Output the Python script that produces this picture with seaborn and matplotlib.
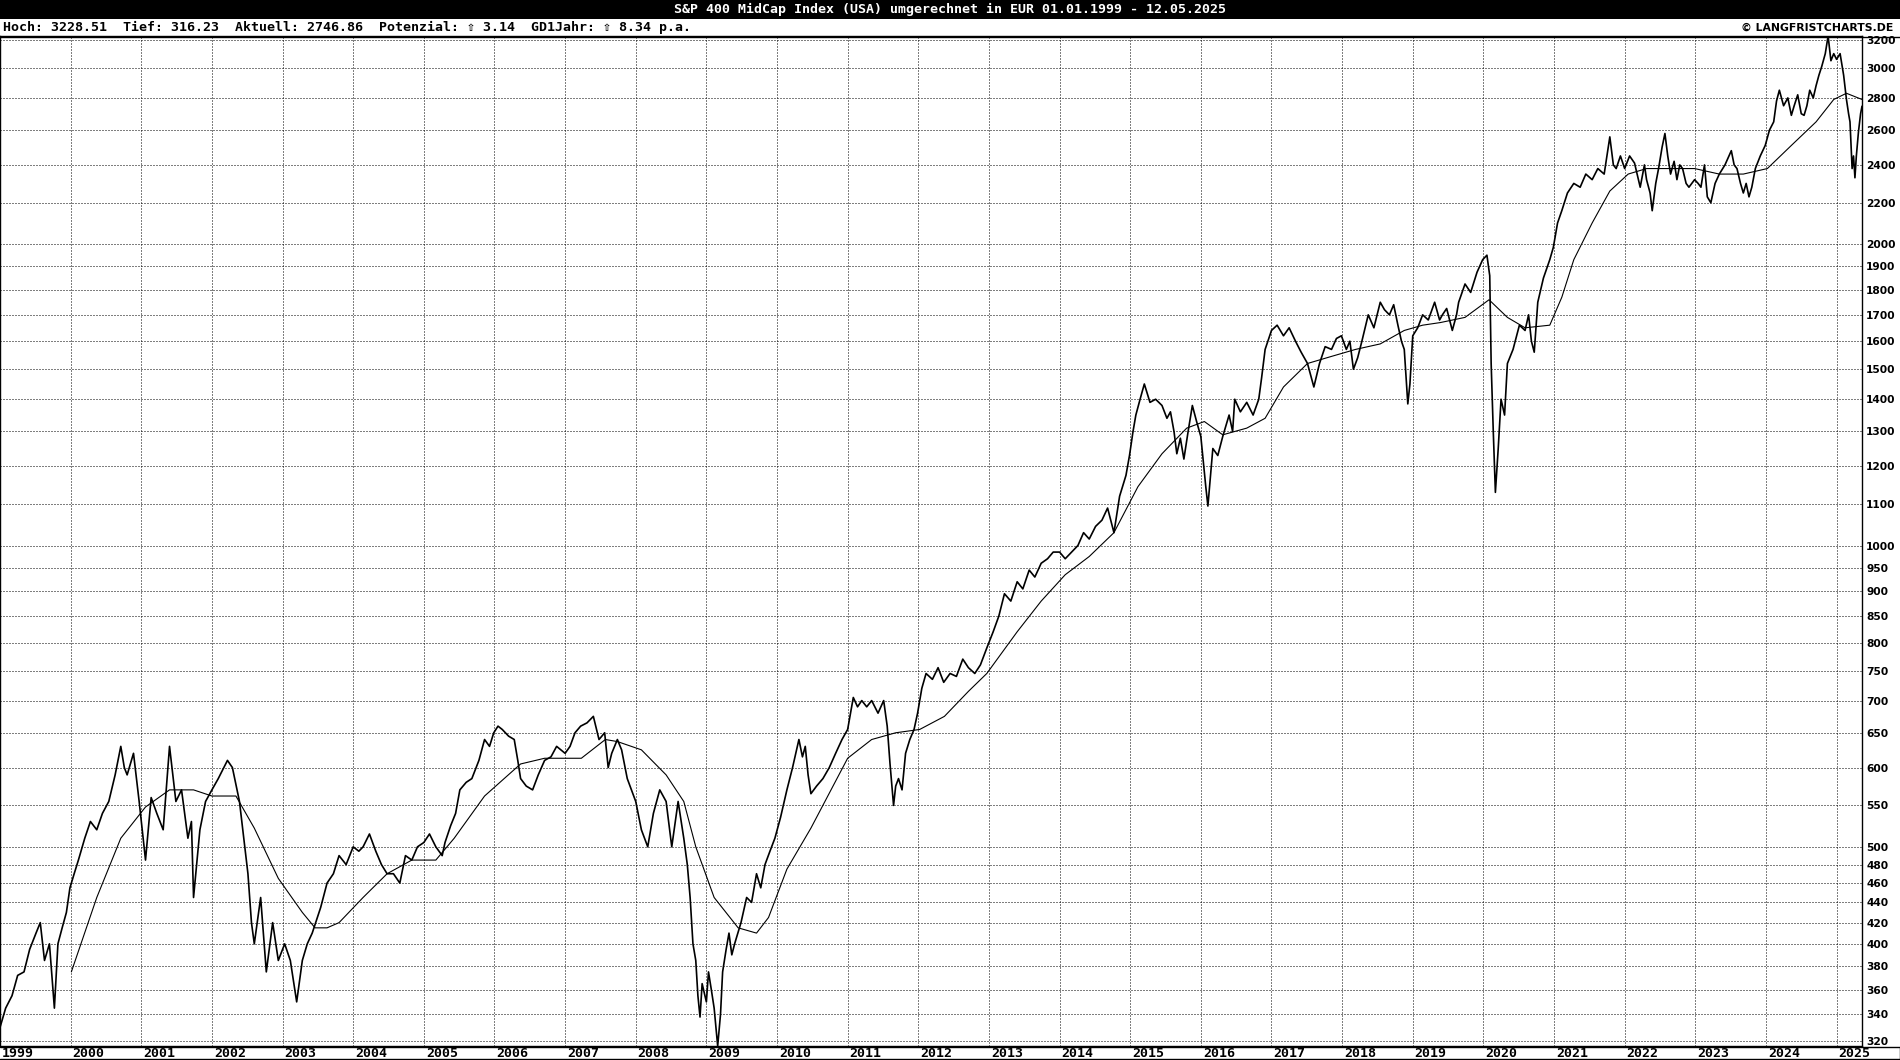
import numpy as np
import pandas as pd
import matplotlib
matplotlib.use("Agg")
import matplotlib.pyplot as plt
import seaborn as sns
from matplotlib.lines import Line2D
from matplotlib.patches import Rectangle
from matplotlib.ticker import NullLocator, FixedLocator, FixedFormatter
from matplotlib.transforms import ScaledTranslation

# ---------------- data ----------------
price_years = [
    1999.00, 1999.08, 1999.17, 1999.25, 1999.34, 1999.42, 1999.51, 1999.57, 1999.63, 1999.70, 1999.77, 1999.82, 1999.88, 1999.94, 1999.99,
    2000.05, 2000.11, 2000.20, 2000.28, 2000.37, 2000.45, 2000.54, 2000.63, 2000.71, 2000.76, 2000.80, 2000.89, 2000.97,
    2001.06, 2001.14, 2001.22, 2001.31, 2001.40, 2001.49, 2001.57, 2001.66, 2001.71, 2001.74, 2001.83, 2001.91, 2002.00,
    2002.09, 2002.22, 2002.29, 2002.39, 2002.51, 2002.56, 2002.60, 2002.69, 2002.77, 2002.86, 2002.94, 2003.03,
    2003.11, 2003.20, 2003.28, 2003.35, 2003.42, 2003.54, 2003.63, 2003.72, 2003.80, 2003.90, 2004.00,
    2004.08, 2004.14, 2004.23, 2004.32, 2004.40, 2004.48, 2004.57, 2004.66, 2004.74, 2004.83, 2004.91, 2005.00,
    2005.08, 2005.17, 2005.26, 2005.30, 2005.38, 2005.45, 2005.51, 2005.60, 2005.68, 2005.78, 2005.86, 2005.93, 2005.99,
    2006.05, 2006.11, 2006.20, 2006.28, 2006.33, 2006.37, 2006.45, 2006.54, 2006.62, 2006.71, 2006.80, 2006.88, 2007.00,
    2007.07, 2007.14, 2007.22, 2007.31, 2007.40, 2007.48, 2007.56, 2007.61, 2007.66, 2007.74, 2007.80, 2007.88, 2008.00,
    2008.08, 2008.17, 2008.25, 2008.34, 2008.43, 2008.51, 2008.60, 2008.68, 2008.73, 2008.77, 2008.81, 2008.85, 2008.88, 2008.91, 2008.94,
    2009.00, 2009.03, 2009.07, 2009.11, 2009.16, 2009.20, 2009.23, 2009.28, 2009.32, 2009.36, 2009.40, 2009.49, 2009.57, 2009.64, 2009.71, 2009.77, 2009.83, 2009.90, 2009.97,
    2010.05, 2010.14, 2010.22, 2010.31, 2010.36, 2010.40, 2010.44, 2010.48, 2010.56, 2010.65, 2010.74, 2010.83, 2010.92, 2011.00,
    2011.08, 2011.14, 2011.20, 2011.27, 2011.34, 2011.43, 2011.51, 2011.56, 2011.60, 2011.65, 2011.68, 2011.72, 2011.77, 2011.82, 2011.88, 2011.94, 2011.99,
    2012.05, 2012.11, 2012.20, 2012.28, 2012.36, 2012.45, 2012.54, 2012.63, 2012.71, 2012.80, 2012.88, 2012.97,
    2013.06, 2013.14, 2013.22, 2013.31, 2013.40, 2013.48, 2013.57, 2013.65, 2013.74, 2013.83, 2013.91, 2014.00,
    2014.08, 2014.17, 2014.26, 2014.34, 2014.42, 2014.51, 2014.60, 2014.68, 2014.77, 2014.85, 2014.94, 2014.99,
    2015.04, 2015.08, 2015.14, 2015.20, 2015.28, 2015.36, 2015.45, 2015.52, 2015.57, 2015.62, 2015.66, 2015.71, 2015.76, 2015.82, 2015.88, 2015.94, 2016.00,
    2016.07, 2016.10, 2016.17, 2016.24, 2016.31, 2016.40, 2016.45, 2016.48, 2016.56, 2016.65, 2016.74, 2016.82, 2016.86, 2016.91, 2017.00,
    2017.08, 2017.17, 2017.25, 2017.34, 2017.42, 2017.51, 2017.60, 2017.68, 2017.76, 2017.85, 2017.92, 2017.99,
    2018.06, 2018.11, 2018.16, 2018.22, 2018.28, 2018.37, 2018.45, 2018.54, 2018.60, 2018.67, 2018.73, 2018.79, 2018.84, 2018.88, 2018.93, 2018.96,
    2019.00, 2019.07, 2019.14, 2019.22, 2019.31, 2019.38, 2019.42, 2019.48, 2019.56, 2019.62, 2019.65, 2019.74, 2019.82, 2019.91, 2019.99,
    2020.05, 2020.09, 2020.11, 2020.14, 2020.17, 2020.21, 2020.25, 2020.30, 2020.34, 2020.42, 2020.51, 2020.59, 2020.64, 2020.68, 2020.72, 2020.77, 2020.85, 2020.94, 2020.99,
    2021.05, 2021.11, 2021.19, 2021.28, 2021.37, 2021.45, 2021.54, 2021.62, 2021.71, 2021.79, 2021.84, 2021.88, 2021.94, 2022.00,
    2022.07, 2022.14, 2022.22, 2022.28, 2022.31, 2022.36, 2022.39, 2022.44, 2022.48, 2022.53, 2022.57, 2022.61, 2022.65, 2022.70, 2022.74, 2022.78, 2022.82, 2022.87, 2022.91, 2022.99,
    2023.04, 2023.08, 2023.13, 2023.17, 2023.22, 2023.28, 2023.34, 2023.42, 2023.51, 2023.55, 2023.59, 2023.64, 2023.68, 2023.72, 2023.76, 2023.80, 2023.85, 2023.92, 2023.99,
    2024.05, 2024.11, 2024.15, 2024.19, 2024.25, 2024.31, 2024.36, 2024.40, 2024.45, 2024.50, 2024.54, 2024.58, 2024.62, 2024.67, 2024.71, 2024.75, 2024.79, 2024.84, 2024.88, 2024.92, 2024.96,
    2025.00, 2025.05, 2025.10, 2025.14, 2025.17, 2025.19, 2025.22, 2025.24, 2025.26, 2025.28, 2025.31, 2025.34, 2025.36,
]
price_values = [
    330, 345, 355, 372, 375, 395, 410, 420, 385, 400, 345, 400, 415, 430, 455,
    470, 485, 510, 530, 520, 540, 555, 590, 630, 600, 590, 620, 555,
    485, 560, 540, 520, 630, 555, 570, 510, 530, 445, 520, 555, 570,
    585, 610, 600, 555, 470, 420, 400, 445, 375, 420, 385, 400,
    385, 350, 385, 400, 410, 435, 460, 470, 490, 480, 500,
    495, 500, 515, 495, 480, 470, 470, 460, 490, 485, 500, 505,
    515, 500, 490, 505, 525, 540, 570, 580, 585, 610, 640, 630, 650,
    660, 655, 645, 640, 610, 585, 575, 570, 590, 610, 615, 630, 620,
    630, 650, 660, 665, 675, 640, 650, 600, 620, 640, 625, 585, 555,
    520, 500, 540, 570, 555, 500, 555, 510, 480, 445, 400, 385, 355, 338, 365,
    350, 375, 360, 345, 316.23, 340, 375, 395, 410, 390, 400, 420, 445, 440, 470, 455, 480, 495, 510,
    535, 570, 600, 640, 615, 630, 590, 565, 575, 585, 600, 620, 640, 655,
    705, 690, 700, 690, 700, 680, 700, 660, 605, 550, 575, 585, 570, 620, 640, 655, 680,
    720, 745, 735, 755, 730, 745, 740, 770, 755, 745, 760, 790,
    820, 850, 895, 880, 920, 905, 945, 930, 960, 970, 985, 985,
    970, 985, 1000, 1030, 1015, 1045, 1060, 1090, 1030, 1120, 1175, 1230,
    1300, 1350, 1400, 1450, 1390, 1400, 1380, 1340, 1360, 1300, 1235, 1280, 1220, 1300, 1380, 1330, 1285,
    1145, 1095, 1250, 1230, 1285, 1350, 1300, 1400, 1360, 1390, 1350, 1400, 1470, 1570, 1640,
    1660, 1620, 1650, 1600, 1560, 1520, 1440, 1520, 1580, 1570, 1610, 1620,
    1570, 1600, 1500, 1540, 1600, 1700, 1650, 1750, 1720, 1700, 1740, 1660, 1600, 1570, 1385, 1450,
    1620, 1650, 1700, 1680, 1750, 1680, 1700, 1725, 1640, 1700, 1750, 1825, 1790, 1875, 1930,
    1950, 1860, 1520, 1300, 1130, 1250, 1400, 1350, 1520, 1570, 1660, 1640, 1700, 1600, 1560, 1750, 1850, 1930, 1985,
    2100, 2160, 2250, 2300, 2280, 2350, 2320, 2380, 2350, 2560, 2400, 2380, 2450, 2380,
    2450, 2410, 2280, 2400, 2320, 2250, 2160, 2300, 2380, 2500, 2580, 2450, 2350, 2420, 2320, 2400, 2380, 2300, 2280, 2320,
    2300, 2280, 2400, 2230, 2200, 2300, 2350, 2400, 2480, 2400, 2380, 2300, 2250, 2300, 2230, 2280, 2380, 2450, 2510,
    2600, 2650, 2780, 2850, 2750, 2800, 2690, 2750, 2820, 2700, 2690, 2750, 2850, 2800, 2880, 2950, 3010, 3100, 3228.51, 3050, 3100,
    3060, 3100, 2950, 2790, 2700, 2650, 2380, 2450, 2330, 2450, 2590, 2700, 2746.86,
]

ma_years = [
    2000.01, 2000.37, 2000.71, 2001.06, 2001.40, 2001.74, 2002.00, 2002.34, 2002.60, 2002.94,
    2003.28, 2003.46, 2003.63, 2003.80, 2004.14, 2004.48, 2004.83, 2005.17, 2005.43, 2005.86,
    2006.37, 2006.71, 2007.23, 2007.57, 2007.74, 2008.08, 2008.43, 2008.68, 2008.85, 2009.11,
    2009.45, 2009.71, 2009.88, 2010.14, 2010.48, 2011.00, 2011.34, 2011.68, 2012.02, 2012.37,
    2012.71, 2012.97, 2013.40, 2013.74, 2014.08, 2014.42, 2014.77, 2015.11, 2015.45, 2015.80,
    2016.05, 2016.31, 2016.65, 2016.91, 2017.17, 2017.51, 2017.85, 2018.19, 2018.54, 2018.88,
    2019.14, 2019.39, 2019.74, 2020.08, 2020.34, 2020.59, 2020.94, 2021.11, 2021.28, 2021.54,
    2021.79, 2022.05, 2022.31, 2022.65, 2022.99, 2023.34, 2023.68, 2024.02, 2024.36, 2024.71,
    2024.96, 2025.14, 2025.36,
]
ma_values = [
    375, 445, 510, 548, 570, 570, 562, 562, 522, 465,
    430, 415, 415, 420, 445, 470, 485, 485, 510, 562,
    605, 613, 613, 640, 637, 625, 590, 555, 500, 445,
    415, 410, 425, 475, 522, 613, 640, 650, 655, 675,
    715, 745, 820, 880, 935, 975, 1030, 1145, 1235, 1310,
    1330, 1290, 1310, 1340, 1440, 1520, 1545, 1570, 1590, 1640,
    1660, 1670, 1690, 1760, 1690, 1650, 1660, 1770, 1930, 2100,
    2260, 2350, 2380, 2380, 2380, 2350, 2350, 2380, 2510, 2650,
    2790, 2830, 2790,
]

year_ticks = list(range(1999, 2026))
year_labels = [str(y) for y in year_ticks]
value_ticks = [320, 340, 360, 380, 400, 420, 440, 460, 480, 500,
               550, 600, 650, 700, 750, 800, 850, 900, 950, 1000,
               1100, 1200, 1300, 1400, 1500, 1600, 1700, 1800, 1900, 2000,
               2200, 2400, 2600, 2800, 3000, 3200]
value_labels = [str(v) for v in value_ticks]

title_text = "S&P 400 MidCap Index (USA) umgerechnet in EUR 01.01.1999 - 12.05.2025"
info_text = "Hoch: 3228.51  Tief: 316.23  Aktuell: 2746.86  Potenzial: \u21e7 3.14  GD1Jahr: \u21e7 8.34 p.a."
copyright_text = "\u00a9 LANGFRISTCHARTS.DE"
y_low, y_high = 316.23, 3228.51
x_start, x_end = 1999.0, 2025.36

# ---------------- figure ----------------
sns.set_theme(style="white")
plt.rcParams["font.family"] = ["DejaVu Sans Mono", "DejaVu Sans"]

W, H = 1900, 1060
fig = plt.figure(figsize=(W / 100, H / 100), dpi=100)
fig.patch.set_facecolor("white")

ax_left, ax_right, ax_top, ax_bottom = 0, 1862, 36, 1046
ax = fig.add_axes([ax_left / W, 1 - ax_bottom / H, (ax_right - ax_left) / W, (ax_bottom - ax_top) / H])
ax.set_facecolor("white")

price_df = pd.DataFrame({"year": price_years, "value": price_values})
ma_df = pd.DataFrame({"year": ma_years, "value": ma_values})

sns.lineplot(data=price_df, x="year", y="value", ax=ax, color="black", linewidth=1.2,
             estimator=None, sort=False, zorder=3)
sns.lineplot(data=ma_df, x="year", y="value", ax=ax, color="black", linewidth=0.8,
             estimator=None, sort=False, zorder=3)

ax.set_yscale("log")
ax.set_ylim(y_low, y_high)
ax.set_xlim(x_start, x_end)
ax.set_xlabel("")
ax.set_ylabel("")

ax.yaxis.set_major_locator(FixedLocator(value_ticks))
ax.yaxis.set_major_formatter(FixedFormatter(value_labels))
ax.yaxis.set_minor_locator(NullLocator())
ax.yaxis.tick_right()
ax.tick_params(axis="y", length=0, pad=3, labelsize=7.7, colors="black")
for lbl in ax.get_yticklabels():
    lbl.set_fontfamily("DejaVu Sans")
    lbl.set_fontweight("bold")

ax.set_xticks(year_ticks)
ax.set_xticklabels(year_labels)
ax.tick_params(axis="x", length=0, pad=1, labelsize=9.5, colors="black")
for lbl in ax.get_xticklabels():
    lbl.set_horizontalalignment("left")
    lbl.set_fontweight("bold")
    lbl.set_transform(lbl.get_transform() + ScaledTranslation(2 / 100, 0, fig.dpi_scale_trans))

ax.grid(True, which="major", axis="both", color="black", linestyle=(0, (1, 2)), linewidth=0.72)
for s in ax.spines.values():
    s.set_color("black")
    s.set_linewidth(1.0)
    s.set_visible(True)

# title bar
fig.add_artist(Rectangle((0, 1 - 19 / H), 1, 19 / H, transform=fig.transFigure,
                         facecolor="black", edgecolor="none"))
fig.text(0.5, 1 - 9.5 / H, title_text, color="white", ha="center", va="center",
         fontsize=9.5, fontweight="bold", family=["DejaVu Sans Mono", "DejaVu Sans"])
fig.text(3 / W, 1 - 27.5 / H, info_text, color="black", ha="left", va="center",
         fontsize=9.5, fontweight="bold", family=["DejaVu Sans Mono", "DejaVu Sans"])
fig.text(1893 / W, 1 - 27.5 / H, copyright_text, color="black", ha="right", va="center",
         fontsize=7.8, fontweight="bold", family=["DejaVu Sans", "DejaVu Sans Mono"])

# borders
fig.add_artist(Line2D([0, 1], [1 - 36.5 / H, 1 - 36.5 / H], transform=fig.transFigure,
                      color="black", linewidth=1.0))
fig.add_artist(Line2D([0, 1], [1 - 1046.5 / H, 1 - 1046.5 / H], transform=fig.transFigure,
                      color="black", linewidth=1.0))
fig.add_artist(Line2D([0, 1], [1 - 1059.3 / H, 1 - 1059.3 / H], transform=fig.transFigure,
                      color="black", linewidth=1.0))
fig.add_artist(Line2D([1899.5 / W, 1899.5 / W], [1 - 1059.3 / H, 1 - 1046.5 / H],
                      transform=fig.transFigure, color="black", linewidth=1.0))

fig.savefig("out.png", dpi=100)
